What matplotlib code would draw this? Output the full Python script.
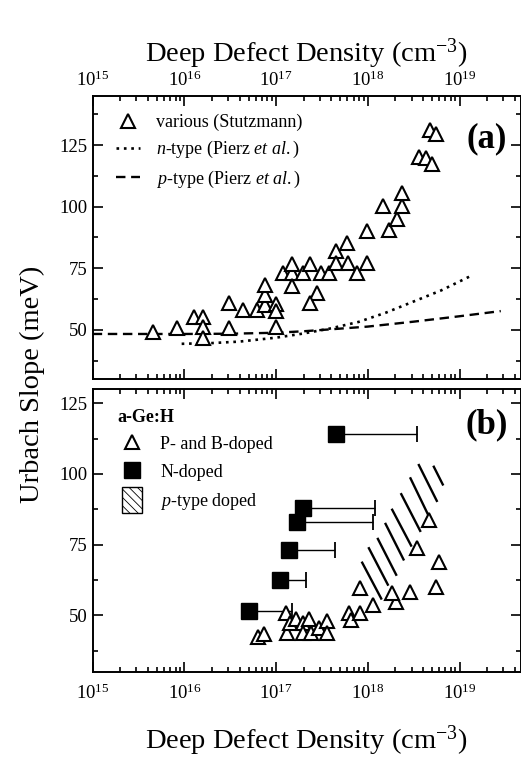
import numpy as np
import matplotlib
matplotlib.use('Agg')
import matplotlib.pyplot as plt
from matplotlib.patches import Rectangle, Patch
from matplotlib.lines import Line2D
from matplotlib.legend_handler import HandlerPatch
from matplotlib.ticker import MultipleLocator

plt.rcParams['font.family'] = ['Liberation Serif', 'DejaVu Serif']
plt.rcParams['mathtext.fontset'] = 'custom'
plt.rcParams['mathtext.rm'] = 'Liberation Serif'
plt.rcParams['mathtext.it'] = 'Liberation Serif:italic'
plt.rcParams['mathtext.bf'] = 'Liberation Serif:bold'
plt.rcParams['hatch.linewidth'] = 0.6

# ---------------- data ----------------
# panel (a): various (Stutzmann)
stutz_x = [4.5e15, 8.2e15, 1.28e16, 1.6e16, 1.6e16, 1.6e16, 3.1e16, 3.1e16, 4.4e16,
           6.2e16, 7.6e16, 7.6e16, 7.6e16, 1.0e17, 1.0e17, 1.0e17, 1.18e17, 1.48e17,
           1.48e17, 1.48e17, 1.98e17, 2.36e17, 2.77e17, 2.36e17, 3.1e17, 3.8e17,
           4.5e17, 4.5e17, 5.9e17, 6.1e17, 7.6e17, 9.8e17, 9.8e17, 1.48e18, 1.7e18,
           2.07e18, 2.35e18, 2.35e18, 3.65e18, 4.27e18, 4.97e18, 4.8e18, 5.5e18]
stutz_y = [49.0, 50.7, 55.2, 55.2, 51.1, 46.6, 50.7, 61.0, 57.9,
           57.9, 59.9, 64.3, 68.0, 60.6, 57.5, 51.1, 73.2, 73.2,
           76.9, 67.8, 73.2, 76.9, 65.0, 61.0, 73.2, 73.2,
           81.9, 77.3, 85.3, 77.3, 73.2, 90.1, 77.3, 100.3, 90.5,
           95.0, 100.3, 105.4, 120.4, 119.7, 117.3, 131.2, 129.5]

# n-type (Pierz et al.) dotted curve, log10 of density
ntype_logx = [15.97, 16.3, 16.6, 17.0, 17.3, 17.6, 17.9, 18.2, 18.5, 18.8, 19.13]
ntype_y = [44.3, 44.6, 45.2, 46.8, 48.5, 50.6, 53.2, 57.0, 61.5, 66.0, 72.0]

# p-type (Pierz et al.) dashed curve
ptype_logx = [15.0, 16.0, 16.5, 17.0, 17.3, 17.6, 18.0, 18.5, 19.0, 19.45]
ptype_y = [48.3, 48.3, 48.4, 48.8, 49.4, 50.2, 51.3, 53.3, 55.5, 57.6]

# panel (b): N-doped with one-sided error bars
ndoped_x = [5.1e16, 1.1e17, 1.39e17, 1.7e17, 1.98e17, 4.5e17]
ndoped_y = [51.5, 62.5, 73.1, 83.0, 88.1, 114.0]
ndoped_xmax = [1.5e17, 2.1e17, 4.37e17, 1.15e18, 1.2e18, 3.4e18]

# panel (b): P- and B-doped
pb_x = [6.3e16, 7.3e16, 1.28e17, 1.32e17, 1.4e17, 1.66e17, 1.94e17, 1.97e17, 2.4e17,
        2.3e17, 2.9e17, 3.6e17, 3.6e17, 6.2e17, 6.5e17, 8.3e17, 1.15e18, 2.05e18,
        8.3e17, 1.82e18, 2.9e18, 5.5e18, 6.0e18, 3.47e18, 4.6e18]
pb_y = [42.2, 43.3, 50.7, 43.9, 47.4, 48.6, 47.4, 43.9, 43.9,
        48.6, 45.7, 48.0, 43.9, 50.7, 48.3, 50.7, 53.8, 54.7,
        59.7, 58.0, 58.2, 60.0, 68.7, 73.9, 83.6]

# panel (b): p-type doped hatched band (strokes), log10 density and meV
hatch_logx0 = [18.551, 18.714, 18.460, 18.359, 18.260, 18.188, 18.104, 18.006, 17.933]
hatch_y0 = [103.5, 102.9, 98.8, 93.2, 87.7, 82.7, 77.4, 74.1, 69.0]
hatch_logx1 = [18.758, 18.823, 18.660, 18.577, 18.478, 18.395, 18.315, 18.224, 18.152]
hatch_y1 = [90.1, 95.9, 85.4, 79.5, 74.3, 69.4, 64.0, 60.5, 55.6]

xlim = (1e15, 10 ** 19.665)
ylim_a = (30, 145)
ylim_b = (30, 130)
xlabel = 'Deep Defect Density (cm$^{-3}$)'
ylabel = 'Urbach Slope (meV)'

# ---------------- figure ----------------
W_PX, H_PX = 521, 762
fig = plt.figure(figsize=(W_PX / 100, H_PX / 100), dpi=100)
L = 92.7 / W_PX
Wd = 427.8 / W_PX
axa = fig.add_axes([L, 1 - 379 / H_PX, Wd, 283 / H_PX])
axb = fig.add_axes([L, 1 - 672 / H_PX, Wd, 283 / H_PX])

tri_kw = dict(marker='^', ls='none', mfc='white', mec='black', ms=10.5, mew=1.5)

# panel (a)
axa.plot(stutz_x, stutz_y, label='various (Stutzmann)', zorder=3, **tri_kw)
axa.plot(10 ** np.array(ntype_logx), ntype_y, color='black', lw=1.9,
         ls=(0, (1, 1.8)), label=r'$\it{n}$-type (Pierz $\it{et\ al.}$)')
axa.plot(10 ** np.array(ptype_logx), ptype_y, color='black', lw=1.7,
         ls=(0, (4, 2.4)), label=r'$\it{p}$-type (Pierz $\it{et\ al.}$)')

# panel (b)
for x0, y0, x1, y1 in zip(hatch_logx0, hatch_y0, hatch_logx1, hatch_y1):
    axb.plot([10 ** x0, 10 ** x1], [y0, y1], color='black', lw=1.7,
             solid_capstyle='butt')
nx = np.array(ndoped_x)
axb.errorbar(nx, ndoped_y, xerr=[np.zeros_like(nx), np.array(ndoped_xmax) - nx],
             fmt='none', ecolor='black', elinewidth=1.0, capsize=6, capthick=1.3)
axb.plot(pb_x, pb_y, zorder=3, **tri_kw)
axb.plot(ndoped_x, ndoped_y, marker='s', ls='none', color='black', ms=11.5, zorder=4)

for ax, yl in ((axa, ylim_a), (axb, ylim_b)):
    ax.set_xscale('log')
    ax.set_xlim(*xlim)
    ax.set_ylim(*yl)
    ax.yaxis.set_major_locator(MultipleLocator(25))
    ax.yaxis.set_minor_locator(MultipleLocator(12.5))
    ax.tick_params(which='both', direction='in', top=True, bottom=True,
                   left=True, right=True, width=1.2, labelsize=13.5, colors='black')
    ax.tick_params(which='major', length=7)
    ax.tick_params(which='minor', length=3.5)
    for s in ax.spines.values():
        s.set_linewidth(1.4)

axa.tick_params(axis='x', labeltop=True, labelbottom=False, pad=4)
axa.xaxis.set_label_position('top')
axa.set_xlabel(xlabel, fontsize=20.5, labelpad=7)
axb.tick_params(axis='x', pad=8)
axb.set_xlabel(xlabel, fontsize=20.5, labelpad=15)
fig.text(0.062, 1 - 384 / H_PX, ylabel, rotation=90, fontsize=20.5,
         ha='center', va='center')

axa.text(0.922, 0.85, '(a)', transform=axa.transAxes, fontsize=25,
         fontweight='bold', ha='center', va='center')
axb.text(0.922, 0.873, '(b)', transform=axb.transAxes, fontsize=25,
         fontweight='bold', ha='center', va='center')

# legend (a)
axa.legend(loc='upper left', bbox_to_anchor=(0.055, 0.937), frameon=False,
           fontsize=13, handlelength=1.3, handletextpad=0.9, borderpad=0,
           borderaxespad=0, labelspacing=0.45)

# legend (b)
def big_box(legend, orig_handle, xdescent, ydescent, width, height, fontsize):
    h = 18.5
    w = 14.5
    return Rectangle((-xdescent + (width - w) / 2, -ydescent + height / 2 - h / 2), w, h)

handles_b = [Line2D([], [], **tri_kw),
             Line2D([], [], marker='s', ls='none', color='black', ms=11.5),
             Patch(facecolor='white', edgecolor='black', hatch='\\\\\\\\', lw=1.0)]
labels_b = ['P- and B-doped', 'N-doped', r'$\it{p}$-type doped']
axb.legend(handles_b, labels_b, loc='upper left', bbox_to_anchor=(0.065, 0.835),
           frameon=False, fontsize=13, handlelength=1.3, handletextpad=0.9,
           borderpad=0, borderaxespad=0, labelspacing=0.6,
           handler_map={Patch: HandlerPatch(patch_func=big_box)})
axb.text(0.057, 0.90, 'a-Ge:H', transform=axb.transAxes, fontsize=13,
         fontweight='bold', ha='left', va='center')

fig.savefig('out.png', dpi=100)
